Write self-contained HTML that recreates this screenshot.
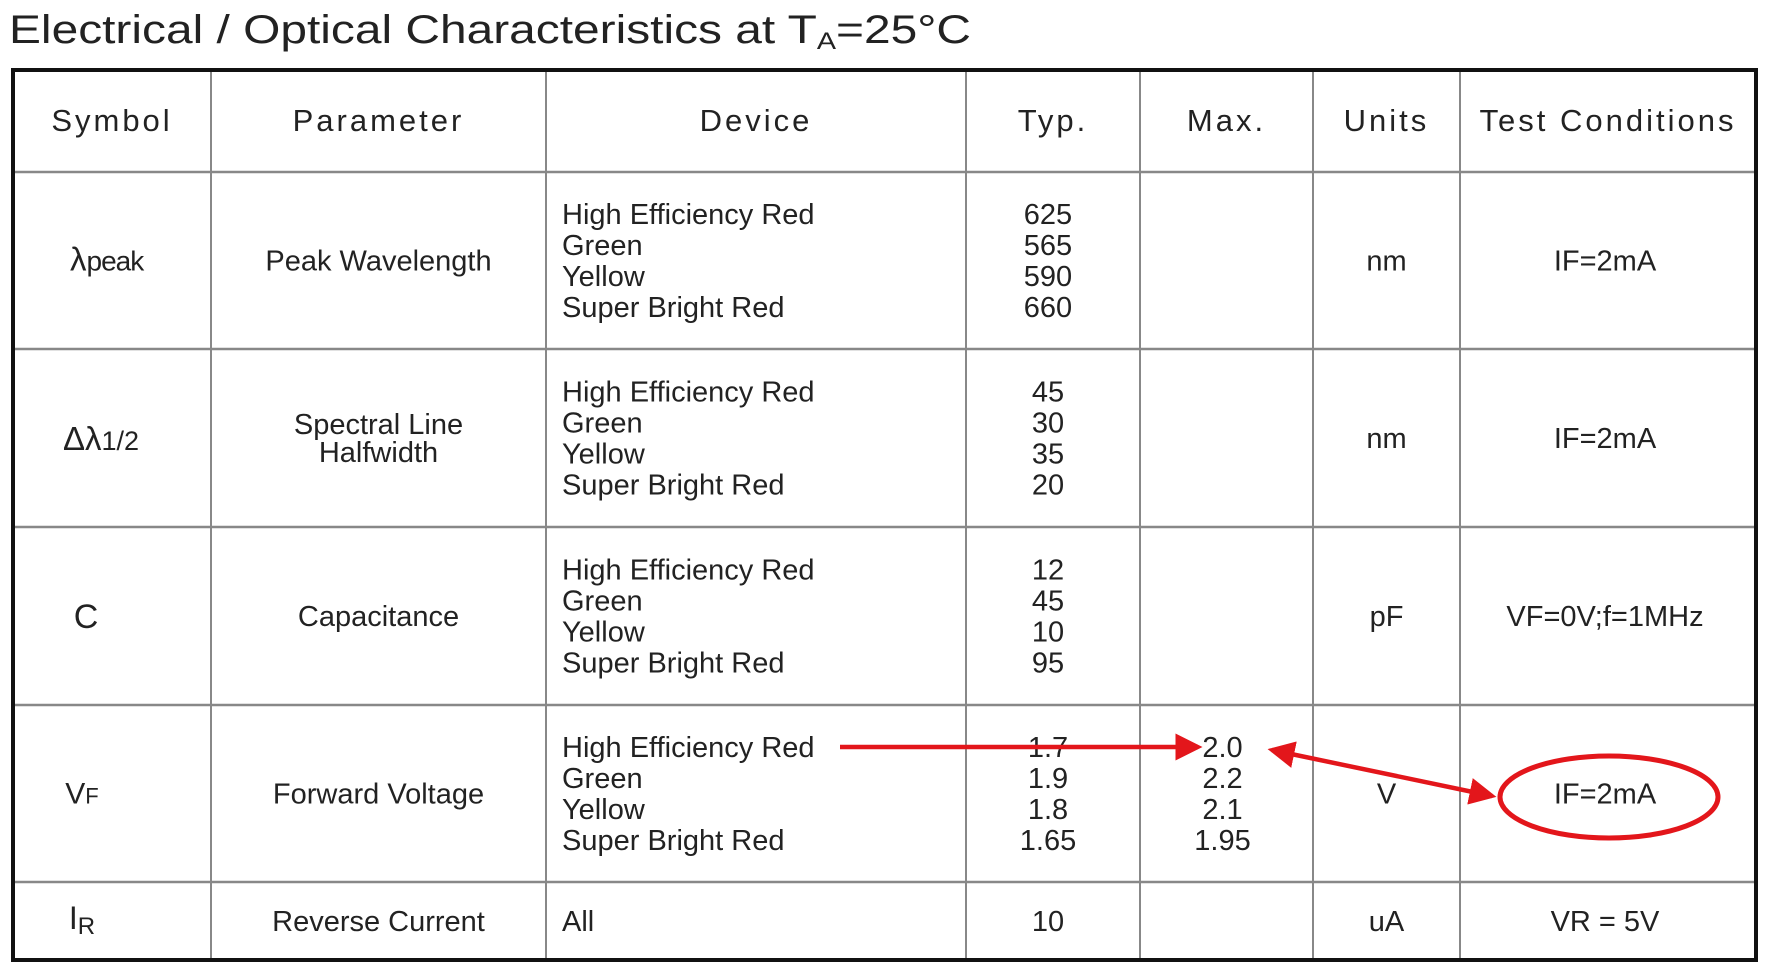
<!DOCTYPE html>
<html><head><meta charset="utf-8"><style>
html,body{margin:0;padding:0;background:#fff;width:1766px;height:976px;overflow:hidden}
svg text{font-family:"Liberation Sans",sans-serif;fill:#222}
</style></head><body>
<svg width="1766" height="976" viewBox="0 0 1766 976">
<defs>
<marker id="ah" markerWidth="6" markerHeight="6" refX="5" refY="3" orient="auto-start-reverse" markerUnits="strokeWidth"><path d="M0,0 L6,3 L0,6 z" fill="#e3161b"/></marker>
</defs>
<text x="9" y="43" font-size="40" textLength="962" lengthAdjust="spacingAndGlyphs">Electrical / Optical Characteristics at T<tspan font-size="24" dy="6">A</tspan><tspan dy="-6">=25°C</tspan></text>
<g id="grid"></g>
<g id="cells"></g>
<g>
<line x1="840" y1="747" x2="1198" y2="747" stroke="#e3161b" stroke-width="4.5" marker-end="url(#ah)"/>
<line x1="1272" y1="750" x2="1492" y2="796" stroke="#e3161b" stroke-width="4.5" marker-start="url(#ah)" marker-end="url(#ah)"/>
<ellipse cx="1609" cy="797" rx="109" ry="41" fill="none" stroke="#e3161b" stroke-width="5"/>
</g>
</svg>
<script>
const colX=[13,211,546,966,1140,1313,1460,1756];
const rowY=[70,172,349,527,705,882,960];
const headers=["Symbol","Parameter","Device","Typ.","Max.","Units","Test Conditions"];
const symbols=["λpeak","Δλ1/2","C","VF","IR"];
const params=[["Peak  Wavelength"],["Spectral Line","Halfwidth"],["Capacitance"],["Forward Voltage"],["Reverse Current"]];
const devices=["High Efficiency Red","Green","Yellow","Super Bright Red"];
const typVals=[["625","565","590","660"],["45","30","35","20"],["12","45","10","95"],["1.7","1.9","1.8","1.65"],["10"]];
const maxVals=[[],[],[],["2.0","2.2","2.1","1.95"],[]];
const units=["nm","nm","pF","V","uA"];
const conds=["IF=2mA","IF=2mA","VF=0V;f=1MHz","IF=2mA","VR = 5V"];
const NS="http://www.w3.org/2000/svg";
const grid=document.getElementById('grid'),cells=document.getElementById('cells');
function ln(x1,y1,x2,y2,c,w){const l=document.createElementNS(NS,'line');l.setAttribute('x1',x1);l.setAttribute('y1',y1);l.setAttribute('x2',x2);l.setAttribute('y2',y2);l.setAttribute('stroke',c);l.setAttribute('stroke-width',w);


grid.appendChild(l);}
function tx(s,x,y,anchor,size,name,ls){const t=document.createElementNS(NS,'text');t.setAttribute('x',x);t.setAttribute('y',y);t.setAttribute('text-anchor',anchor);t.setAttribute('font-size',size);if(ls)t.setAttribute('letter-spacing',ls);t.textContent=s;


cells.appendChild(t);return t;}
for(let i=1;i<colX.length-1;i++)ln(colX[i],rowY[0],colX[i],rowY[rowY.length-1],'#888',2);
for(let j=1;j<rowY.length-1;j++)ln(colX[0],rowY[j],colX[colX.length-1],rowY[j],'#888',2.5);
const b=document.createElementNS(NS,'rect');b.setAttribute('x',colX[0]);b.setAttribute('y',rowY[0]);b.setAttribute('width',colX[7]-colX[0]);b.setAttribute('height',rowY[6]-rowY[0]);b.setAttribute('fill','none');b.setAttribute('stroke','#111');b.setAttribute('stroke-width',4);


grid.appendChild(b);
const cx=i=>(colX[i]+colX[i+1])/2;
headers.forEach((h,i)=>tx(h,cx(i),rowY[0]+62/1+ (rowY[1]-rowY[0])/2-52,'middle',31,'header-'+h.toLowerCase().replace(/[^a-z]+/g,'-').replace(/-$/,''),'3'));
const lh=31;
for(let r=0;r<5;r++){
 const top=rowY[r+1],bot=rowY[r+2],mid=(top+bot)/2;
 const n=r<4?4:1;
 const y0=mid-(n-1)*lh/2+10;
 let st;
 if(r==0){st=tx('λ',cx(0)-25,mid+10,'start',33,'symbol-lambda-peak');const ts=document.createElementNS(NS,'tspan');ts.setAttribute('font-size','28');ts.setAttribute('letter-spacing','-1');ts.textContent='peak';st.appendChild(ts);st.setAttribute('x',cx(0)-42);}
 else if(r==1){st=tx('Δλ',cx(0)-11,mid+12,'middle',33,'symbol-delta-lambda');const ts=document.createElementNS(NS,'tspan');ts.setAttribute('font-size','27');ts.textContent='1/2';st.appendChild(ts);}
 else if(r==2){tx('C',cx(0)-26,mid+12,'middle',34,'symbol-c');}
 else if(r==3){st=tx('V',cx(0)-30,mid+10,'middle',30,'symbol-vf');const ts=document.createElementNS(NS,'tspan');ts.setAttribute('font-size','22');ts.textContent='F';st.appendChild(ts);}
 else {st=tx('I',cx(0)-30,mid+8,'middle',32,'symbol-ir');const ts=document.createElementNS(NS,'tspan');ts.setAttribute('font-size','24');ts.setAttribute('dy','5');ts.textContent='R';st.appendChild(ts);}
 const p=params[r];
 p.forEach((s,k)=>tx(s,cx(1),mid+10-(p.length-1)*14+k*28,'middle',29,'parameter-'+r));
 const devs=r<4?devices:["All"];
 devs.forEach((d,k)=>tx(d,562,y0+k*lh,'start',29,'device-'+r+'-'+k));
 typVals[r].forEach((v,k)=>tx(v,cx(3)-5,y0+k*lh,'middle',29,'typ-'+r+'-'+k));
 maxVals[r].forEach((v,k)=>tx(v,cx(4)-4,y0+k*lh,'middle',29,'max-'+r+'-'+k));
 tx(units[r],cx(5),mid+10,'middle',29,'units-'+r);
 tx(conds[r],cx(6)-3,mid+10,'middle',29,'condition-'+r);
}
</script>
</body></html>
